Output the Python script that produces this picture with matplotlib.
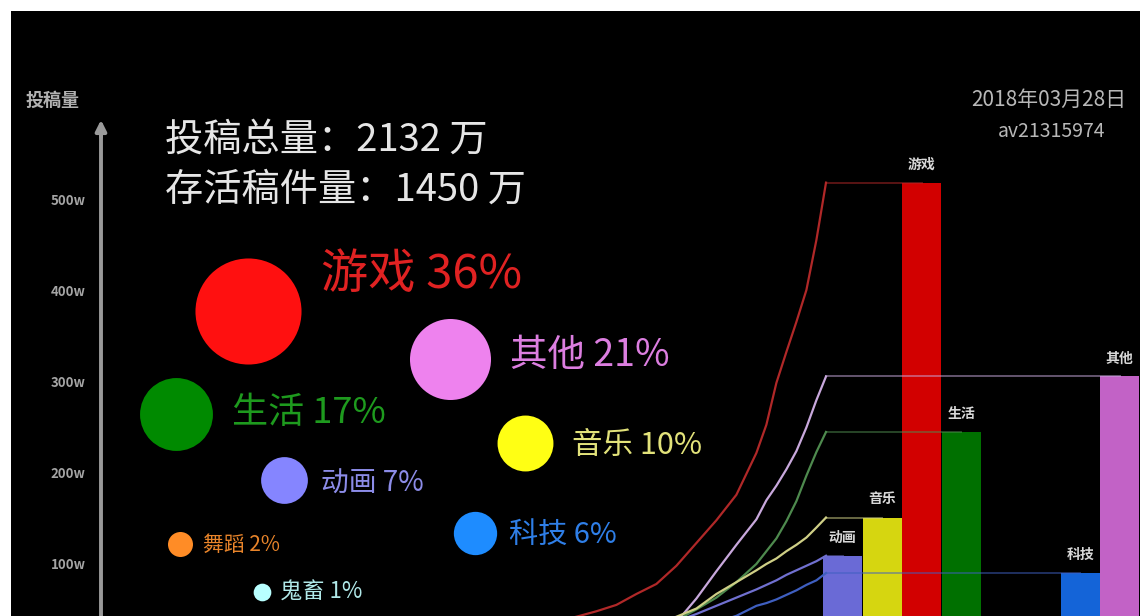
import matplotlib.pyplot as plt

plt.rcParams['font.family'] = ['Noto Sans CJK SC', 'DejaVu Sans']

# categories, in the order of the bars
cats = ['动画', '音乐', '游戏', '生活', '鬼畜', '舞蹈', '科技', '其他']
alive = [108, 150, 518, 244, 15, 32, 89, 305]          # 存活稿件 (万)
share = [7, 10, 36, 17, 1, 2, 6, 21]                    # %

bar_colors = ['#6a6ad6', '#d6d610', '#d20000', '#007000',
              '#9fe0e0', '#e07a20', '#1464d8', '#c262c6']
dot_colors = ['#8585ff', '#ffff14', '#ff1010', '#008a00',
              '#b8ffff', '#ff8c26', '#1e8cff', '#ee82ee']
txt_colors = ['#8c8ce8', '#e2e27a', '#e02222', '#1e9a1e',
              '#b0e8e8', '#e8842a', '#2f7fe8', '#dc7ee0']

# growth curves (cumulative, 万)
years = [2011.5, 2012.0, 2012.5, 2013.0, 2013.5, 2014.0, 2014.5, 2015.0, 2015.5,
         2016.0, 2016.5, 2016.75, 2017.0, 2017.25, 2017.5, 2017.75, 2018.0, 2018.24]
curve_game = [36, 41, 47, 54, 66, 77, 97, 122, 147, 175, 221, 252, 298, 332, 365, 400, 455, 518]
curve_other = [6, 8, 10, 13, 18, 25, 35, 61, 91, 120, 148, 169, 185, 203, 223, 249, 279, 305]
curve_life = [6, 7, 10, 14, 20, 29, 37, 49, 62, 79, 99, 113, 127, 146, 168, 196, 222, 244]
curve_music = [8, 11, 15, 20, 26, 33, 41, 50, 66, 79, 92, 99, 105, 113, 120, 128, 139, 150]
curve_anime = [7, 10, 13, 18, 23, 29, 36, 44, 53, 62, 71, 76, 81, 87, 92, 97, 102, 108]
curve_tech = [5, 7, 9, 12, 15, 19, 24, 29, 35, 42, 53, 56, 60, 65, 70, 76, 81, 89]
curves = {'游戏': (curve_game, '#b02828'), '其他': (curve_other, '#c8a8dc'),
          '生活': (curve_life, '#4e8a4e'), '音乐': (curve_music, '#cfcf86'),
          '动画': (curve_anime, '#7070d0'), '科技': (curve_tech, '#3f5fc0')}

yticks = [100, 200, 300, 400, 500]

fig = plt.figure(figsize=(11.4, 6.16), dpi=100)
fig.patch.set_facecolor('white')
rect = [11 / 1140, 0, 1129 / 1140, 605 / 616]
ax = fig.add_axes(rect)
ax.set_facecolor('black')
ax.set_xlim(-21.0, 7.51)
ax.set_ylim(41.8, 706.6)

# bars
x = list(range(len(cats)))
ax.bar(x, alive, width=0.98, color=bar_colors, zorder=2)
for i, (c, v) in enumerate(zip(cats, alive)):
    ax.annotate(c, (i, v), xytext=(0, 13), textcoords='offset points',
                ha='center', va='center', fontsize=10, color='#d8d8d8', zorder=4,
                fontweight='bold',
                bbox=dict(boxstyle='square,pad=0.15', fc='black', ec='none'))

# y axis with arrow
for s in ['top', 'right', 'bottom']:
    ax.spines[s].set_visible(False)
ax.spines['left'].set_position(('axes', 0.0797))
ax.spines['left'].set_color('#9a9a9a')
ax.spines['left'].set_linewidth(2.8)
ax.spines['left'].set_bounds(41.8, 575)
ax.set_xticks([])
ax.set_yticks(yticks)
ax.set_yticklabels([f'{t}w' for t in yticks])
ax.tick_params(axis='y', length=0, pad=11, labelsize=9.5, labelcolor='#a4a4a4')
for t in ax.get_yticklabels():
    t.set_fontweight('bold')
ax.annotate('', xy=(0.0797, 590), xytext=(0.0797, 565),
            xycoords=('axes fraction', 'data'),
            arrowprops=dict(arrowstyle='-|>', color='#9a9a9a', lw=2.8, mutation_scale=16))
ax.text(0.0365, 0.853, '投稿量', transform=ax.transAxes, ha='center', va='center',
        fontsize=13, color='#b0b0b0', fontweight='bold')

# curves on a time axis sharing the value scale
axc = fig.add_axes(rect, sharey=ax)
axc.patch.set_visible(False)
axc.axis('off')
axc.set_xlim(1997.865, 2026.09)
for c, (vals, col) in curves.items():
    axc.plot(years, vals, color=col, lw=1.6)

# connectors from curve end to bar
x_end = ax.transData.inverted().transform(axc.transData.transform((years[-1], 0)))[0]
for c, (vals, col) in curves.items():
    i = cats.index(c)
    ax.plot([x_end, i], [vals[-1], vals[-1]], color=col, lw=1.4, alpha=0.5, zorder=3)

# share bubbles with labels (axes fraction positions)
bubble_pos = {'游戏': (0.210, 0.504), '其他': (0.389, 0.425), '生活': (0.146, 0.334),
              '音乐': (0.455, 0.286), '动画': (0.242, 0.225), '科技': (0.411, 0.137),
              '舞蹈': (0.150, 0.119), '鬼畜': (0.222, 0.040)}
label_pos = {'游戏': (0.275, 0.564, 34), '其他': (0.442, 0.430, 27), '生活': (0.196, 0.335, 26),
             '音乐': (0.497, 0.282, 22), '动画': (0.275, 0.219, 20), '科技': (0.441, 0.134, 21),
             '舞蹈': (0.170, 0.118, 15), '鬼畜': (0.238, 0.039, 16)}
for i, c in enumerate(cats):
    bx, by = bubble_pos[c]
    ax.scatter([bx], [by], s=162 * share[i], color=dot_colors[i],
               transform=ax.transAxes, zorder=5, linewidths=0)
    lx, ly, fs = label_pos[c]
    ax.text(lx, ly, f'{c} {share[i]}%', transform=ax.transAxes, ha='left', va='center',
            fontsize=fs, color=txt_colors[i], zorder=5)

# headline numbers
ax.text(0.136, 0.786, '投稿总量：2132 万', transform=ax.transAxes, ha='left', va='center',
        fontsize=27.5, color='#e6e6e6')
ax.text(0.136, 0.704, '存活稿件量：1450 万', transform=ax.transAxes, ha='left', va='center',
        fontsize=27.5, color='#e6e6e6')

# date / av number
ax.text(0.919, 0.853, '2018年03月28日', transform=ax.transAxes, ha='center', va='center',
        fontsize=15, color='#b8b8b8')
ax.text(0.922, 0.801, 'av21315974', transform=ax.transAxes, ha='center', va='center',
        fontsize=14, color='#b8b8b8', style='italic')

plt.savefig('out.png', dpi=100, facecolor=fig.get_facecolor())
